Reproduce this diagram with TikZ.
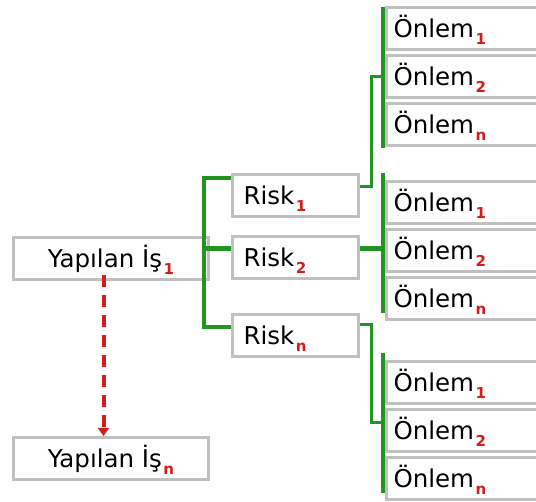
\documentclass[tikz,border=0pt]{standalone}
\usepackage{fontspec}
\setmainfont{DejaVu Sans}
\usetikzlibrary{calc,arrows.meta}
\definecolor{boxgray}{RGB}{192,192,192}
\definecolor{tgreen}{RGB}{34,148,34}
\definecolor{subred}{RGB}{212,28,28}
\newcommand\subidx[1]{\kern1.5pt\raisebox{-7pt}{\fontsize{15}{15}\selectfont\bfseries\color{subred}#1}}
\begin{document}
\begin{tikzpicture}[x=1pt,y=-1pt,
  box/.style={draw=boxgray, line width=3pt, rectangle, minimum height=42pt,
    font=\fontsize{24.5}{28}\selectfont, text height=17.8pt, text depth=0pt, anchor=north west},
  jobbox/.style={box, minimum width=195pt, inner sep=0pt},
  riskbox/.style={box, text width=104pt, inner xsep=11pt, inner ysep=0pt, align=left},
  measurebox/.style={box, text width=161pt, inner xsep=7pt, inner ysep=0pt, align=left},
  tree/.style={draw=tgreen, line width=4pt},
  thinlink/.style={draw=tgreen, line width=3pt},
  thicklink/.style={draw=tgreen, line width=5pt},
  bar/.style={draw=tgreen, line width=4.5pt},
  nextjob/.style={draw=subred, line width=4pt, dash pattern=on 12pt off 8pt,
    -{Triangle[width=11pt,length=8pt]}}]
\clip (0,0) rectangle (536,502);
% jobs
\node[jobbox] (y1) at (12,236) {Yapılan İş\subidx{1}};
\node[jobbox] (yn) at (12,436) {Yapılan İş\subidx{n}};
% risks
\node[riskbox] (r1) at (231,173) {Risk\subidx{1}};
\node[riskbox] (r2) at (231,235) {Risk\subidx{2}};
\node[riskbox] (rn) at (231,313) {Risk\subidx{n}};
% measures
\node[measurebox] (o11) at (385,6)   {Önlem\subidx{1}};
\node[measurebox] (o12) at (385,54)  {Önlem\subidx{2}};
\node[measurebox] (o1n) at (385,102) {Önlem\subidx{n}};
\node[measurebox] (o21) at (385,180) {Önlem\subidx{1}};
\node[measurebox] (o22) at (385,228) {Önlem\subidx{2}};
\node[measurebox] (o2n) at (385,276) {Önlem\subidx{n}};
\node[measurebox] (o31) at (385,360) {Önlem\subidx{1}};
\node[measurebox] (o32) at (385,408) {Önlem\subidx{2}};
\node[measurebox] (o3n) at (385,456) {Önlem\subidx{n}};
% left tree
\draw[tree] ($(r1.north west)+(0,5)$) -| ($(rn.north west)+(-27,14)$) -- ($(rn.north west)+(0,14)$);
\draw[thicklink] ($(r2.north west)+(-27,14)$) -- ($(r2.north west)+(0,14)$);
% risk to measures
\draw[thinlink] ($(r1.north east)+(0,14)$) -- ++(11,0) |- ($(o12.north west)+(-2,23)$);
\draw[thicklink] ($(r2.north east)+(0,14)$) -- ($(o22.north west)+(-2,21)$);
\draw[thinlink] ($(rn.north east)+(0,12)$) -- ++(11,0) |- ($(o32.north west)+(-2,15)$);
% bars
\draw[bar] ($(o11.north west)+(-2,1)$) -- ($(o1n.south west)+(-2,1)$);
\draw[bar] ($(o21.north west)+(-2,-7)$) -- ($(o2n.south west)+(-2,-8)$);
\draw[bar] ($(o31.north west)+(-2,-7)$) -- ($(o3n.south west)+(-2,-8)$);
% next job arrow
\draw[nextjob] ($(y1.south)+(-7.5,-6)$) -- ($(yn.north)+(-7.5,0)$);
\end{tikzpicture}
\end{document}
